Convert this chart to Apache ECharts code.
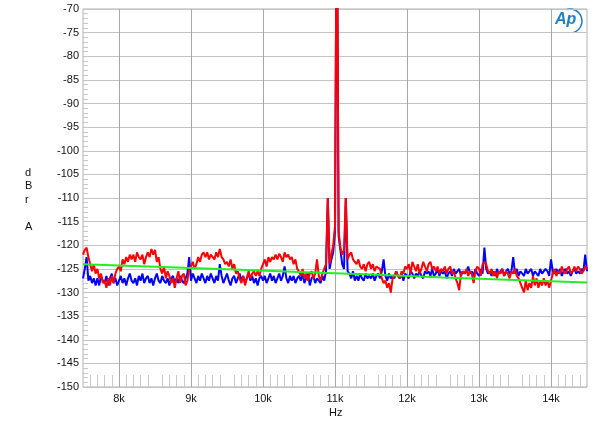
<!DOCTYPE html>
<html>
<head>
<meta charset="utf-8">
<script src="https://cdn.jsdelivr.net/npm/echarts@6/dist/echarts.min.js"></script>
<style>html,body{margin:0;padding:0;background:#fff;}#c{width:600px;height:429px;}</style>
</head>
<body>
<div id="c"></div>
<script>
// Frequency grid of the FFT traces (Hz)
const freqStart = 7500;
const freqStep = 25;

// Red trace (dBrA), one value per 25 Hz from 7500 Hz
const redValues = [
-122,-121,-120.5,-122.5, -124,-125.5,-124,-126, -125,-127,-126,-128, -127.5,-129,-127,-128.5, -126.5,-128,-126,-125,
-124.5,-125.5,-123,-124, -122.5,-123.5,-122,-123, -122,-123.5,-121.5,-122.5, -123,-122,-124,-122.5, -121.5,-122.5,-120.8,-122,
-121,-123.5,-122.5,-125, -126,-124.5,-127,-125.5, -126.5,-128,-127,-129, -127,-125.5,-128,-126.5, -126,-128.5,-127.5,-125,
-124.5,-123.5,-125,-124, -122.5,-123.5,-122,-121.5, -122.5,-121.5,-123,-122, -122,-123,-121.5,-122.5, -120.8,-122.5,-123,-124,
-123.5,-124.5,-123,-125, -124,-126,-125.5,-127, -128,-126.5,-128.5,-127, -125.5,-127,-126,-125.5, -126.5,-125.5,-126.5,-125,
-124,-123,-124.5,-122.5, -123.5,-122.5,-123,-122, -123,-121.8,-122.5,-123.5, -121.5,-122.5,-122,-123, -122.5,-124,-123,-125,
-125.5,-126.5,-125,-127, -126,-127.5,-126,-125.5, -127,-126,-123,-126.5, -127.5,-126,-125,-124, -110,-124,-122,-120,
-116,-40,-117,-120.5, -122,-121,-110,-123, -122,-121.5,-123,-123.5, -124,-123,-124.5,-125, -124,-125.5,-124,-123.5,
-125,-124,-125.5,-124.5, -124.5,-125,-127,-128, -127.5,-129,-128,-130, -127,-126.5,-125.5,-126.5, -127,-125.5,-126,-124.5,
-125,-124,-126,-123.5, -124.5,-125.5,-124,-126, -125,-123.5,-124.5,-125.5, -124,-123.5,-125,-124.5, -125.5,-124.5,-126,-125,
-125.5,-124.5,-126,-125, -124.5,-126,-125.5,-127, -128,-129.5,-126,-125.5, -126,-125,-126.5,-125.5, -126,-128,-125.5,-124.5,
-125,-126.5,-124,-123.5, -124,-125.5,-126,-125, -126.5,-125.5,-127,-125.5, -126,-125,-126.5,-125.5, -126,-127,-125.5,-126,
-125,-126.5,-127,-128, -129,-130,-127.5,-129.5, -128,-129,-126.5,-128.5, -127,-129,-127.5,-128.5, -127,-128.5,-127.5,-129,
-127.5,-126,-125,-126.5, -125.5,-126,-124.5,-125.5, -126,-125,-124.5,-126, -125.5,-124.5,-125.5,-124.5, -125,-126,-125.5,-124.5,
-125
];

// Blue trace (dBrA), one value per 25 Hz from 7500 Hz
const blueValues = [
-127,-125,-122.5,-127.5, -126.5,-128,-127,-128.5, -127,-128.5,-126.5,-127.5, -128,-126.5,-128.5,-127, -126,-128,-127,-128.5,
-127.5,-126.5,-128,-127, -128.5,-127,-126,-127.5, -128,-127,-128.5,-126.5, -127.5,-126,-128,-127, -126.5,-128,-127,-128.5,
-127,-126,-127.5,-128, -126.5,-127.5,-128,-127, -128.5,-127,-126.5,-128, -127,-128,-126.5,-127.5, -128,-127,-126,-122.5,
-127.5,-126,-127,-128, -126.5,-127.5,-126,-127, -128,-126.5,-127.5,-126, -127,-128,-126.5,-127.5, -124,-126.5,-128,-127,
-126,-127.5,-128.5,-127, -126.5,-128,-127,-126, -127.5,-126.5,-128,-127, -126,-127.5,-126.5,-128, -127,-128.5,-127,-126.5,
-127.5,-126.5,-128,-127, -126,-127.5,-126.5,-128, -127,-126,-127.5,-126.5, -124.5,-127,-128,-126.5, -127.5,-126.5,-128,-127,
-126.5,-127.5,-126,-128, -127,-126,-128.5,-127, -126.5,-128,-127,-127.5, -128,-126.5,-127.5,-125.5, -110,-125,-123,-121.5,
-117,-40,-118,-121, -124,-125,-110,-125.5, -126,-127,-125.5,-127.5, -126.5,-127.5,-126,-127, -127.5,-126,-127,-126.5,
-127,-126,-127.5,-126.5, -126,-127,-125.5,-123, -126.5,-127.5,-126,-127, -126.5,-127,-125.5,-126.5, -127,-126,-127.5,-126,
-126.5,-127,-125.5,-126, -127,-126,-126.5,-125.5, -126.5,-127,-125.5,-126, -125.5,-126.5,-125,-126.5, -126,-125,-126.5,-125.5,
-126,-125.5,-127,-126, -125.5,-126.5,-125,-126, -126,-125,-126.5,-125.5, -126,-125.5,-124.5,-126, -125.5,-126.5,-125,-126,
-126.5,-125,-126,-120.5, -125,-126,-125.5,-126.5, -125.5,-126.5,-125,-126, -126,-125,-126.5,-125.5, -125,-126,-125.5,-122.5,
-126,-125,-126.5,-125.5, -125.5,-126.5,-125,-126, -126,-125,-126.5,-125.5, -125.5,-126.5,-125,-126, -126,-125,-125.5,-126.5,
-123,-125.5,-126,-125, -126,-125,-126.5,-125.5, -125,-126,-125.5,-126.5, -125.5,-125,-126,-125.5, -126,-125,-125.5,-122,
-125.5
];

// Green reference curve (dBrA)
const greenFreqs = [7500, 8500, 9500, 10500, 11500, 12500, 13500, 14500];
const greenValues = [-124.0, -124.55, -125.1, -125.65, -126.2, -126.8, -127.35, -127.9];

// Axes
const xMin = 7500, xMax = 14500, xStep = 500;
const yMin = -150, yMax = -70, yStep = 5;

const toPairs = vals => vals.map((v, i) => [freqStart + i * freqStep, v]);
const FONT = '"Liberation Sans", Arial, sans-serif';

const chart = echarts.init(document.getElementById('c'), null, {renderer: 'canvas'});
chart.setOption({
  animation: false,
  backgroundColor: '#ffffff',
  grid: {left: 83, top: 9, width: 504, height: 378, show: true, borderColor: '#b0b0b0', borderWidth: 1, backgroundColor: 'transparent'},
  xAxis: {
    type: 'value', min: xMin, max: xMax, interval: xStep,
    axisLine: {show: false},
    axisTick: {show: false, inside: true},
    minorTick: {show: true, splitNumber: 5, length: 12, lineStyle: {color: '#c8c8c8', width: 1}},
    splitLine: {show: true, lineStyle: {color: ['rgba(0,0,0,0)', '#a8a8a8'], width: 1}},
    axisLabel: {
      margin: 6, color: '#111', fontFamily: FONT, fontSize: 11,
      formatter: v => (v % 1000 === 0 ? (v / 1000) + 'k' : '')
    }
  },
  yAxis: {
    type: 'value', min: yMin, max: yMax, interval: yStep,
    axisLine: {show: false},
    axisTick: {show: false, inside: true},
    minorTick: {show: true, splitNumber: 5, length: 5, lineStyle: {color: '#c8c8c8', width: 1}},
    splitLine: {show: true, lineStyle: {color: '#c4c4c4', width: 1}},
    axisLabel: {margin: 4, color: '#111', fontFamily: FONT, fontSize: 11}
  },
  graphic: [
    {type: 'text', left: 25, top: 166, style: {text: 'd\nB\nr\n\nA', font: '11px ' + FONT, fill: '#111', lineHeight: 13.5, textAlign: 'left'}},
    {type: 'text', left: 329, top: 407, style: {text: 'Hz', font: '11px ' + FONT, fill: '#111'}},
    {type: 'text', left: 555, top: 12, style: {text: 'Ap', font: 'italic bold 16px ' + FONT, fill: '#1f7fc4'}},
    {type: 'arc', shape: {cx: 570, cy: 21, r: 12, startAngle: -1.9, endAngle: 1.3}, style: {stroke: '#1f7fc4', lineWidth: 1.5, fill: null}}
  ],
  series: [
    {type: 'line', data: toPairs(blueValues), showSymbol: false, clip: true, lineStyle: {color: '#0000ff', width: 2}, z: 2},
    {type: 'line', data: toPairs(redValues), showSymbol: false, clip: true, lineStyle: {color: '#ff0000', width: 2}, z: 3},
    {type: 'line', data: greenFreqs.map((f, i) => [f, greenValues[i]]), showSymbol: false, clip: true, lineStyle: {color: '#22ee22', width: 2}, z: 4}
  ]
});
</script>
</body>
</html>
